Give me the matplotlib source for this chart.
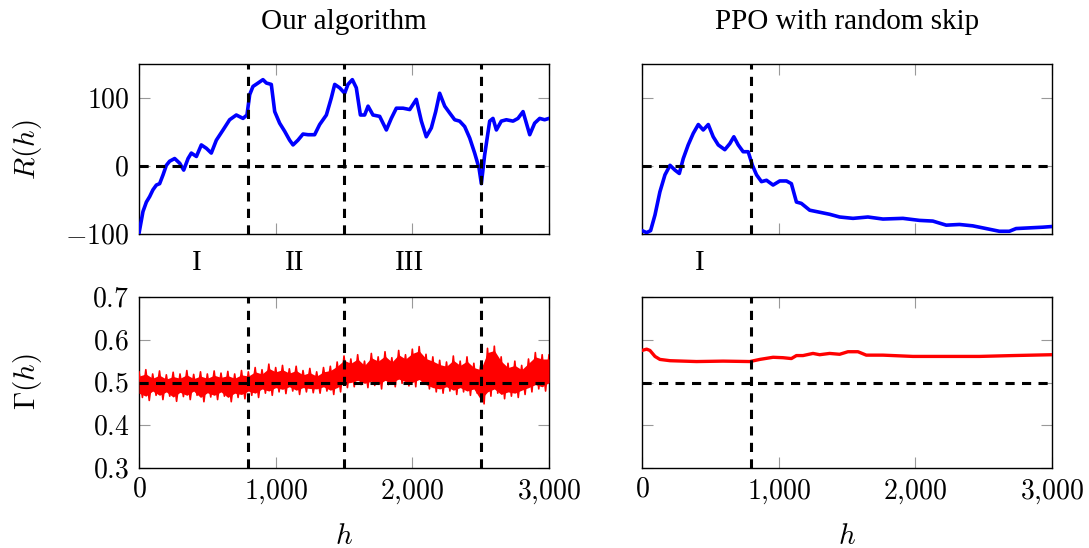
import numpy as np
import matplotlib
matplotlib.use('Agg')
import matplotlib.pyplot as plt
from matplotlib.ticker import FuncFormatter

plt.rcParams['mathtext.fontset'] = 'cm'
plt.rcParams['font.family'] = ['Liberation Serif', 'DejaVu Serif']

# R(h) - our algorithm
ours_h = [0, 29, 54, 78, 102, 127, 151, 176, 200, 224, 261, 298, 327, 359, 383, 420,
          456, 493, 529, 566, 615, 663, 712, 761, 790, 810, 834, 871, 907, 932, 968,
          993, 1029, 1066, 1102, 1127, 1163, 1200, 1237, 1285, 1322, 1371, 1407, 1432,
          1468, 1505, 1529, 1561, 1590, 1620, 1651, 1676, 1712, 1761, 1810, 1846, 1883,
          1932, 1981, 2029, 2066, 2102, 2139, 2171, 2200, 2237, 2273, 2310, 2346, 2383,
          2420, 2456, 2488, 2505, 2529, 2566, 2590, 2615, 2651, 2688, 2737, 2773, 2810,
          2859, 2895, 2932, 2968, 3000]
ours_R = [-99, -67, -53, -45, -35, -28, -26, -13, 1, 7, 11, 4, -6, 11, 19, 14,
          31, 26, 19, 38, 53, 68, 75, 70, 75, 105, 117, 122, 127, 122, 120,
          80, 63, 51, 38, 31, 38, 47, 46, 46, 61, 75, 100, 120,
          115, 107, 120, 127, 115, 75, 75, 88, 75, 73, 53, 70, 85,
          85, 83, 98, 66, 43, 56, 80, 107, 88, 78, 68, 66, 58,
          41, 19, -3, -26, 16, 66, 70, 53, 66, 68, 66, 70, 80,
          46, 63, 70, 68, 70]

# R(h) - PPO with random skip
ppo_h = [0, 34, 63, 95, 131, 168, 205, 241, 273, 302, 338, 375, 412, 448, 485, 521,
         558, 606, 643, 672, 704, 740, 777, 808, 838, 874, 911, 959, 1008, 1057, 1093,
         1130, 1166, 1227, 1300, 1373, 1446, 1544, 1653, 1763, 1909, 2031, 2128, 2226,
         2323, 2420, 2518, 2615, 2688, 2737, 2834, 2932, 3000]
ppo_R = [-95, -98, -95, -72, -38, -13, 1, -6, -11, 11, 31, 48, 61, 53, 61, 43,
         31, 24, 33, 43, 31, 21, 21, 1, -13, -23, -21, -28, -22, -22, -26,
         -53, -55, -65, -68, -71, -75, -77, -75, -78, -77, -80, -81, -87,
         -86, -88, -92, -96, -96, -92, -91, -90, -89]

# Gamma(h) - our algorithm, upper / lower edge of the oscillation
gam_h = list(range(0, 3001, 50))
gam_hi = [0.525, 0.53, 0.52, 0.527, 0.518, 0.524, 0.52, 0.528, 0.519, 0.525, 0.52, 0.527,
          0.522, 0.526, 0.52, 0.528, 0.525,
          0.535, 0.53, 0.543, 0.535, 0.54, 0.532, 0.538, 0.528, 0.533, 0.525, 0.535,
          0.538, 0.548, 0.562,
          0.555, 0.565, 0.55, 0.568, 0.56, 0.572, 0.558, 0.575, 0.565, 0.578, 0.584,
          0.566, 0.56, 0.552, 0.548, 0.562, 0.55, 0.56, 0.545, 0.54,
          0.58, 0.585, 0.56, 0.545, 0.55, 0.54, 0.555, 0.57, 0.565, 0.565]
gam_lo = [0.465, 0.458, 0.47, 0.46, 0.468, 0.456, 0.467, 0.46, 0.47, 0.455, 0.466, 0.46,
          0.468, 0.455, 0.465, 0.462, 0.47,
          0.465, 0.475, 0.47, 0.478, 0.474, 0.48, 0.472, 0.478, 0.476, 0.475, 0.48,
          0.472, 0.478, 0.488,
          0.49, 0.495, 0.488, 0.493, 0.485, 0.495, 0.49, 0.498, 0.492, 0.49, 0.497,
          0.485, 0.478, 0.475, 0.48, 0.472, 0.478, 0.47, 0.475, 0.45,
          0.468, 0.475, 0.462, 0.468, 0.465, 0.472, 0.478, 0.485, 0.48, 0.49]

# Gamma(h) - PPO with random skip
ppo_gh = [0, 34, 58, 95, 131, 205, 399, 594, 789, 862, 959, 1032, 1093, 1130, 1178,
          1251, 1300, 1373, 1446, 1507, 1580, 1641, 1763, 1982, 2226, 2469, 2713, 3000]
ppo_G = [0.575, 0.578, 0.575, 0.561, 0.554, 0.551, 0.549, 0.550, 0.549, 0.554, 0.559,
         0.558, 0.556, 0.563, 0.563, 0.568, 0.565, 0.568, 0.566, 0.572, 0.572, 0.564,
         0.564, 0.561, 0.561, 0.561, 0.563, 0.565]

phases_left = [800, 1500, 2500]
phases_right = [800]
labels_left = [('I', 420), ('II', 1140), ('III', 1980)]
labels_right = [('I', 425)]

W, H = 1089, 548
fig = plt.figure(figsize=(W / 100, H / 100), dpi=100)

def box(l, t, r, b):
    return [l / W, 1 - b / H, (r - l) / W, (b - t) / H]

ax_tl = fig.add_axes(box(139, 64, 549, 234))
ax_tr = fig.add_axes(box(642, 64, 1052, 234))
ax_bl = fig.add_axes(box(139, 297, 549, 468))
ax_br = fig.add_axes(box(642, 297, 1052, 468))

def num_fmt(v, pos):
    if abs(v) >= 1000:
        s = f'{int(v):,}'.replace(',', '{,}')
    elif float(v).is_integer():
        s = f'{int(v)}'
    else:
        s = f'{v:.1f}'
    return f'${s}$'

dash = dict(color='black', lw=2.2, dashes=(3.0, 2.4), zorder=5)

for ax in [ax_tl, ax_tr, ax_bl, ax_br]:
    ax.set_xlim(0, 3000)
    ax.set_xticks([0, 1000, 2000, 3000])
    ax.tick_params(direction='in', top=True, right=True, length=8, width=0.8,
                   color='#999999', labelsize=20, pad=7)
    for sp in ax.spines.values():
        sp.set_linewidth(1.0)
    ax.xaxis.set_major_formatter(FuncFormatter(num_fmt))
    ax.yaxis.set_major_formatter(FuncFormatter(num_fmt))

for ax in [ax_tl, ax_tr]:
    ax.set_ylim(-100, 150)
    ax.set_yticks([-100, 0, 100])
    ax.tick_params(labelbottom=False)
    ax.axhline(0, **dash)
for ax in [ax_bl, ax_br]:
    ax.set_ylim(0.3, 0.7)
    ax.set_yticks([0.3, 0.4, 0.5, 0.6, 0.7])
    ax.axhline(0.5, **dash)
for ax in [ax_tr, ax_br]:
    ax.tick_params(labelleft=False)

ax_tl.plot(ours_h, ours_R, color='#0000ff', lw=2.6, zorder=3)
ax_tr.plot(ppo_h, ppo_R, color='#0000ff', lw=2.6, zorder=3)

# zigzag between the upper and lower edges
zz_x, zz_y = [], []
for h, hi, lo in zip(gam_h, gam_hi, gam_lo):
    zz_x += [h, h + 25]
    zz_y += [hi, lo]
ax_bl.plot(zz_x, zz_y, color='#ff0000', lw=1.2, zorder=3)
ax_bl.fill_between(gam_h, np.array(gam_hi) - 0.01, np.array(gam_lo) + 0.01,
                   color='#ff0000', lw=0, zorder=3)
ax_br.plot(ppo_gh, ppo_G, color='#ff0000', lw=2.4, zorder=3)

for ax in [ax_tl, ax_bl]:
    for p in phases_left:
        ax.axvline(p, **dash)
for ax in [ax_tr, ax_br]:
    for p in phases_right:
        ax.axvline(p, **dash)

for txt, h in labels_left:
    ax_tl.text(h, -0.17, txt, transform=ax_tl.get_xaxis_transform(),
               ha='center', va='center', fontsize=21)
for txt, h in labels_right:
    ax_tr.text(h, -0.17, txt, transform=ax_tr.get_xaxis_transform(),
               ha='center', va='center', fontsize=21)

fig.text(344 / W, 1 - 22 / H, 'Our algorithm', ha='center', va='center', fontsize=21)
fig.text(847 / W, 1 - 22 / H, 'PPO with random skip', ha='center', va='center', fontsize=21)
fig.text(28 / W, 1 - 150 / H, '$R(h)$', rotation=90, ha='center', va='center', fontsize=21)
fig.text(28 / W, 1 - 382 / H, r'$\Gamma(h)$', rotation=90, ha='center', va='center', fontsize=21)
fig.text(344 / W, 1 - 537 / H, '$h$', ha='center', va='center', fontsize=21)
fig.text(847 / W, 1 - 537 / H, '$h$', ha='center', va='center', fontsize=21)

fig.savefig('out.png', dpi=100)
